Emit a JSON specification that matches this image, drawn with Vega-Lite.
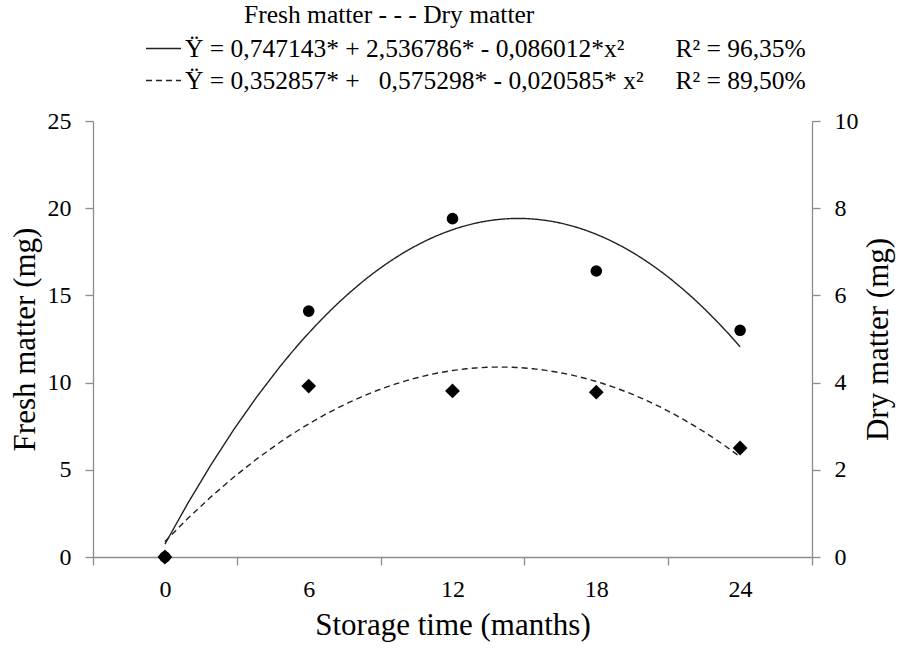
{
  "$schema": "https://vega.github.io/schema/vega-lite/v6.json",
  "width": 719,
  "height": 436,
  "autosize": {"type": "none"},
  "padding": {"left": 93, "top": 121, "right": 87, "bottom": 91},
  "background": "white",
  "config": {
    "font": "Liberation Serif, Times New Roman, serif",
    "view": {"stroke": null},
    "axis": {
      "domainColor": "#8c8c8c",
      "tickColor": "#8c8c8c",
      "domainWidth": 1.3,
      "tickWidth": 1.3,
      "tickSize": 8,
      "grid": false,
      "labelFont": "Liberation Serif, Times New Roman, serif",
      "labelFontSize": 24,
      "labelColor": "black",
      "titleFont": "Liberation Serif, Times New Roman, serif",
      "titleFontSize": 31,
      "titleFontWeight": "normal",
      "titleColor": "black"
    }
  },
  "title": {
    "text": "Fresh matter  - - - Dry matter",
    "anchor": "start",
    "frame": "group",
    "dx": 151,
    "dy": 2,
    "font": "Liberation Serif, Times New Roman, serif",
    "fontSize": 25.5,
    "fontWeight": "normal",
    "color": "black"
  },
  "data": {
    "values": [
      {"month": 0, "series": "Fresh matter", "value": 0},
      {"month": 6, "series": "Fresh matter", "value": 14.1},
      {"month": 12, "series": "Fresh matter", "value": 19.4},
      {"month": 18, "series": "Fresh matter", "value": 16.4},
      {"month": 24, "series": "Fresh matter", "value": 13.0},
      {"month": 0, "series": "Dry matter", "value": 0},
      {"month": 6, "series": "Dry matter", "value": 3.92},
      {"month": 12, "series": "Dry matter", "value": 3.81},
      {"month": 18, "series": "Dry matter", "value": 3.78},
      {"month": 24, "series": "Dry matter", "value": 2.5}
    ]
  },
  "encoding": {
    "x": {
      "field": "month",
      "type": "quantitative",
      "scale": {"domain": [-3, 27], "nice": false, "zero": false},
      "axis": {
        "title": "Storage time (manths)",
        "values": [-3, 0, 3, 6, 9, 12, 15, 18, 21, 24, 27],
        "labelExpr": "datum.value % 6 === 0 ? datum.label : ''",
        "tickOpacity": {"condition": {"test": "datum.value % 6 === 0", "value": 0}, "value": 1},
        "labelPadding": 12,
        "titlePadding": 9,
        "labelFlush": false,
        "labelOverlap": false
      }
    }
  },
  "layer": [
    {
      "transform": [{"filter": "datum.series === 'Fresh matter'"}],
      "encoding": {
        "y": {
          "field": "value",
          "type": "quantitative",
          "scale": {"domain": [0, 25], "nice": false},
          "axis": {
            "title": "Fresh matter (mg)",
            "orient": "left",
            "values": [0, 5, 10, 15, 20, 25],
            "labelPadding": 14,
            "titlePadding": 6
          }
        }
      },
      "layer": [
        {
          "transform": [{"regression": "value", "on": "month", "method": "poly", "order": 2, "extent": [0, 24], "groupby": ["series"]}],
          "mark": {"type": "line", "color": "#222222", "strokeWidth": 1.4},
          "encoding": {
            "strokeDash": {
              "field": "series",
              "type": "nominal",
              "scale": {"domain": ["Fresh matter", "Dry matter"], "range": [[1, 0], [6, 4]]},
              "legend": {
                "orient": "none",
                "legendX": 52,
                "legendY": -91,
                "direction": "vertical",
                "title": null,
                "symbolType": "stroke",
                "symbolSize": 1225,
                "symbolStrokeWidth": 1.6,
                "symbolStrokeColor": "black",
                "labelFont": "Liberation Serif, Times New Roman, serif",
                "labelFontSize": 25.5,
                "labelColor": "black",
                "labelLimit": 1000,
                "labelOffset": 3,
                "rowPadding": -4,
                "padding": 0,
                "labelExpr": "datum.label === 'Fresh matter' ? 'Ÿ = 0,747143* + 2,536786* - 0,086012*x²\u00a0\u00a0\u00a0\u00a0\u00a0\u00a0\u00a0\u00a0R² = 96,35%' : 'Ÿ = 0,352857* +\u00a0\u00a0\u00a00,575298* - 0,020585*\u00a0x²\u00a0\u00a0\u00a0\u00a0\u00a0R² = 89,50%'"
              }
            }
          }
        },
        {
          "mark": {"type": "point", "shape": "circle", "filled": true, "color": "black", "opacity": 1, "size": 135}
        }
      ]
    },
    {
      "transform": [{"filter": "datum.series === 'Dry matter'"}],
      "encoding": {
        "y": {
          "field": "value",
          "type": "quantitative",
          "scale": {"domain": [0, 10], "nice": false},
          "axis": {
            "title": "Dry matter (mg)",
            "orient": "right",
            "values": [0, 2, 4, 6, 8, 10],
            "labelPadding": 14,
            "titlePadding": 36,
            "titleAngle": 270
          }
        }
      },
      "layer": [
        {
          "transform": [{"regression": "value", "on": "month", "method": "poly", "order": 2, "extent": [0, 24], "groupby": ["series"]}],
          "mark": {"type": "line", "color": "#222222", "strokeWidth": 1.4},
          "encoding": {
            "strokeDash": {
              "field": "series",
              "type": "nominal",
              "scale": {"domain": ["Fresh matter", "Dry matter"], "range": [[1, 0], [6, 4]]}
            }
          }
        },
        {
          "mark": {"type": "point", "shape": "diamond", "filled": true, "color": "black", "opacity": 1, "size": 220}
        }
      ]
    }
  ],
  "resolve": {"scale": {"y": "independent"}}
}
